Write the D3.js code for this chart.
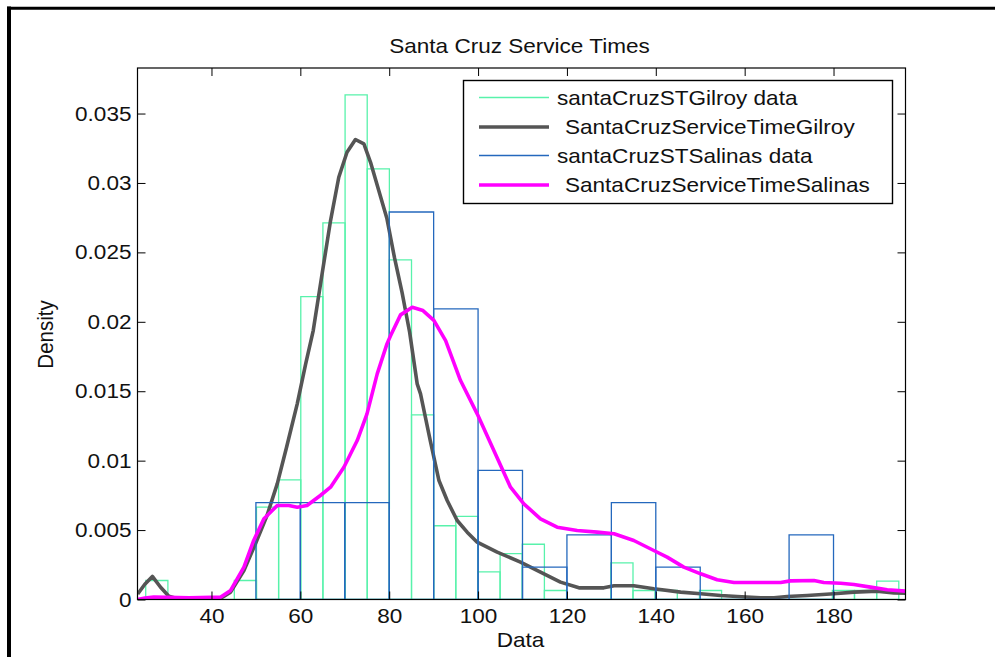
<!DOCTYPE html>
<html>
<head>
<meta charset="utf-8">
<script src="https://cdn.jsdelivr.net/npm/d3@7"></script>
<style>
  body { margin: 0; background: #fff; }
  svg text { font-family: "Liberation Sans", Arial, Helvetica, sans-serif; fill: #111; }
</style>
</head>
<body>
<svg id="chart" width="995" height="657"></svg>
<script>
// ---- Axis ticks ----
const xTicks = [40, 60, 80, 100, 120, 140, 160, 180];
const yTicks = [0, 0.005, 0.01, 0.015, 0.02, 0.025, 0.03, 0.035];
const yTickLabels = ["0", "0.005", "0.01", "0.015", "0.02", "0.025", "0.03", "0.035"];

// ---- Gilroy service times: histogram (density per bin) ----
const gilroyBinEdges = [25.2, 30.19, 35.17, 40.16, 45.14, 50.13, 55.11, 60.1, 65.08, 70.07,
  75.05, 80.04, 85.02, 90.01, 94.99, 99.98, 104.96, 109.95, 114.93, 119.92,
  124.9, 129.89, 134.87, 139.86, 144.84, 149.83, 154.81, 159.8, 164.78, 169.77,
  174.75, 179.74, 184.72, 189.71, 194.69];
const gilroyDensity = [0.00137, 0, 0, 0, 0.00137, 0.00665, 0.00862, 0.02182, 0.02713, 0.03634,
  0.03101, 0.02446, 0.0133, 0.00531, 0.00598, 0.00199, 0.00331, 0.00398, 0.00065, 0,
  0, 0.00264, 0.00065, 0.00065, 0, 0.00065, 0, 0, 0, 0,
  0, 0.00065, 0.00065, 0.00132];

// ---- Salinas service times: histogram (density per bin) ----
const salinasBinEdges = [50, 60, 70, 80, 90, 100, 110, 120, 130, 140, 150, 160, 170, 180];
const salinasDensity = [0.00698, 0.00698, 0.00698, 0.02791, 0.02093, 0.0093, 0.00233,
  0.00465, 0.00698, 0.00233, 0, 0, 0.00465];

// ---- Fitted density curves ----
const gilroyFitX = [23.4, 25.0, 26.7, 28.5, 30.4, 32, 35, 40, 42.1, 44.3, 47.3, 49.9, 52.5, 54.8,
  56.9, 59.3, 61.2, 62.9, 64.9, 66.8, 68.65, 70.5, 72.4, 74.3, 75.8, 77.65, 79.5, 81.2, 82.9,
  84.6, 86.3, 87.05, 89.3, 91.2, 93.05, 95.3, 97.55, 99.8, 104.3, 109.55, 114.05, 118.55,
  122.7, 128.3, 130.6, 135.05, 139.55, 145.6, 150.1, 154.6, 158.3, 163.6, 166.6, 169.6,
  174.1, 180.1, 184.6, 189.8, 193.6, 196.2];
const gilroyFitY = [0.0004, 0.0011, 0.00166, 0.0009, 0.00024, 0.0001, 0.0001, 0.0001, 0.0001,
  0.00053, 0.00209, 0.00401, 0.00605, 0.00833, 0.01097, 0.01409, 0.01697, 0.01937, 0.02346,
  0.02729, 0.03041, 0.03221, 0.03313, 0.03282, 0.03149, 0.02945, 0.02742, 0.0246, 0.0221,
  0.01925, 0.01553, 0.01481, 0.01135, 0.00857, 0.00713, 0.00569, 0.00485, 0.00413, 0.00341,
  0.00269, 0.00197, 0.00125, 0.00084, 0.00084, 0.00099, 0.00099, 0.00077, 0.00053, 0.00041,
  0.00029, 0.00022, 0.00012, 0.00012, 0.00022, 0.00029, 0.00041, 0.00053, 0.0006, 0.00048,
  0.00045];

const salinasFitX = [23.4, 25, 27, 30, 35, 40, 42, 44.3, 47.3, 49.5, 51.8, 54.8, 57.4, 59.3,
  61.5, 64.5, 66.8, 69.8, 72.8, 75.0, 77.3, 79.5, 80.3, 82.55, 85.2, 87.6, 90.05, 92.7, 96.05,
  99.8, 103.55, 107.3, 110.3, 114.05, 117.8, 122.3, 126.8, 130.6, 135.05, 139.55, 142.55,
  146.3, 150.1, 153.8, 157.6, 162.1, 168.1, 170.3, 175.6, 177.8, 181.6, 184.6, 188.3, 192.1,
  196.2];
const salinasFitY = [0, 0.0001, 0.00017, 0.00015, 0.00012, 0.00015, 0.00017, 0.00065, 0.00233,
  0.00425, 0.00581, 0.00677, 0.00677, 0.00665, 0.00677, 0.00749, 0.00809, 0.00953, 0.01145,
  0.01337, 0.01625, 0.01841, 0.019, 0.0205, 0.02105, 0.02081, 0.0201, 0.01865, 0.01577,
  0.01337, 0.01073, 0.00809, 0.00689, 0.00581, 0.00521, 0.00497, 0.00485, 0.00473, 0.00425,
  0.00353, 0.00305, 0.00233, 0.00185, 0.00142, 0.00122, 0.00122, 0.00122, 0.00134, 0.00137,
  0.00122, 0.00117, 0.00108, 0.00089, 0.0007, 0.0006];

// ---- Text ----
const chartTitle = "Santa Cruz Service Times";
const xLabel = "Data";
const yLabel = "Density";
const legendLabels = ["santaCruzSTGilroy data", "SantaCruzServiceTimeGilroy",
  "santaCruzSTSalinas data", "SantaCruzServiceTimeSalinas"];

// ---- Styling ----
const colGilroyHist = "#58f2ab";
const colGilroyFit = "#555555";
const colSalinasHist = "#2468bd";
const colSalinasFit = "#ff00ff";
const FONT = 20.5;       // px
const STRETCH = 1.1;     // horizontal text stretch

const svg = d3.select("#chart");
const W = 995, H = 657;
const plot = { left: 137.5, right: 905.5, top: 68, bottom: 599.5 };

svg.append("rect").attr("width", W).attr("height", H).attr("fill", "#fff");

// outer figure frame (left and top edges)
svg.append("line").attr("x1", 9).attr("x2", 9).attr("y1", 6.5).attr("y2", H)
  .attr("stroke", "#000").attr("stroke-width", 4);
svg.append("line").attr("x1", 7).attr("x2", W).attr("y1", 8.3).attr("y2", 8.3)
  .attr("stroke", "#000").attr("stroke-width", 3);

const x = d3.scaleLinear().domain([23.35, 196.2]).range([plot.left, plot.right]);
const y = d3.scaleLinear().domain([0, 0.03828]).range([plot.bottom, plot.top]);

// plot area
svg.append("rect")
  .attr("x", plot.left).attr("y", plot.top)
  .attr("width", plot.right - plot.left).attr("height", plot.bottom - plot.top)
  .attr("fill", "#fff");

const clip = svg.append("clipPath").attr("id", "plotClip").append("rect")
  .attr("x", plot.left).attr("y", plot.top - 2)
  .attr("width", plot.right - plot.left).attr("height", plot.bottom - plot.top + 2);

const layer = svg.append("g").attr("clip-path", "url(#plotClip)");

function histPath(edges, dens) {
  return dens.map((d, i) => {
    const x0 = x(edges[i]), x1 = x(edges[i + 1]), y0 = y(0), y1 = y(d);
    return `M${x0},${y0}V${y1}H${x1}V${y0}Z`;
  });
}

const line = d3.line().x(d => x(d[0])).y(d => y(d[1])).curve(d3.curveLinear);

// Gilroy histogram
layer.append("g").selectAll("path")
  .data(histPath(gilroyBinEdges, gilroyDensity))
  .join("path").attr("d", d => d)
  .attr("fill", "none").attr("stroke", colGilroyHist).attr("stroke-width", 1.3);

// Gilroy fit
layer.append("path")
  .attr("d", line(d3.zip(gilroyFitX, gilroyFitY)))
  .attr("fill", "none").attr("stroke", colGilroyFit).attr("stroke-width", 3.6)
  .attr("stroke-linejoin", "round");

// Salinas histogram
layer.append("g").selectAll("path")
  .data(histPath(salinasBinEdges, salinasDensity))
  .join("path").attr("d", d => d)
  .attr("fill", "none").attr("stroke", colSalinasHist).attr("stroke-width", 1.3);

// Salinas fit
layer.append("path")
  .attr("d", line(d3.zip(salinasFitX, salinasFitY)))
  .attr("fill", "none").attr("stroke", colSalinasFit).attr("stroke-width", 3.6)
  .attr("stroke-linejoin", "round");

// ---- Axes (ticks point inward on all four sides) ----
function styleAxis(g) {
  g.attr("font-size", null).attr("font-family", null);
  g.select(".domain").remove();
  g.selectAll(".tick line").attr("stroke", "#000").attr("stroke-width", 1);
  g.selectAll(".tick text").attr("font-size", FONT).attr("fill", "#111")
    .attr("transform", `scale(${STRETCH},1)`);
}

svg.append("g").attr("transform", `translate(0,${plot.bottom})`)
  .call(d3.axisBottom(x).tickValues(xTicks).tickSize(-8).tickPadding(9).tickSizeOuter(0))
  .call(styleAxis);
svg.append("g").attr("transform", `translate(0,${plot.top})`)
  .call(d3.axisTop(x).tickValues(xTicks).tickSize(-8).tickFormat(() => "").tickSizeOuter(0))
  .call(styleAxis);
svg.append("g").attr("transform", `translate(${plot.left},0)`)
  .call(d3.axisLeft(y).tickValues(yTicks).tickSize(-8).tickPadding(5.5).tickSizeOuter(0)
    .tickFormat((d, i) => yTickLabels[i]))
  .call(styleAxis);
svg.append("g").attr("transform", `translate(${plot.right},0)`)
  .call(d3.axisRight(y).tickValues(yTicks).tickSize(-8).tickFormat(() => "").tickSizeOuter(0))
  .call(styleAxis);

// axes box
svg.append("rect")
  .attr("x", plot.left).attr("y", plot.top)
  .attr("width", plot.right - plot.left).attr("height", plot.bottom - plot.top)
  .attr("fill", "none").attr("stroke", "#000").attr("stroke-width", 1.2);

// ---- Titles ----
function stretchedText(px, py, str, anchor, rotate) {
  return svg.append("text")
    .attr("transform", `translate(${px},${py}) scale(${STRETCH},1)` + (rotate ? ` rotate(${rotate})` : ""))
    .attr("text-anchor", anchor)
    .attr("font-size", FONT)
    .text(str);
}

stretchedText((plot.left + plot.right) / 2 - 2, 52.5, chartTitle, "middle");
stretchedText((plot.left + plot.right) / 2 - 1, 647, xLabel, "middle");
stretchedText(53, 334.5, yLabel, "middle", -90);

// ---- Legend ----
const legend = { x0: 463.5, y0: 80.5, x1: 892.5, y1: 203.5 };
const lg = svg.append("g");
lg.append("rect")
  .attr("x", legend.x0).attr("y", legend.y0)
  .attr("width", legend.x1 - legend.x0).attr("height", legend.y1 - legend.y0)
  .attr("fill", "#fff").attr("stroke", "#000").attr("stroke-width", 1.4);

const legendRows = [97.5, 127, 155.5, 185];
const legendStroke = [colGilroyHist, colGilroyFit, colSalinasHist, colSalinasFit];
const legendWidth = [1.3, 3.6, 1.3, 3.6];
const legendTextX = [557, 565, 557, 565];

legendLabels.forEach((lab, i) => {
  lg.append("line")
    .attr("x1", 479).attr("x2", 549)
    .attr("y1", legendRows[i]).attr("y2", legendRows[i])
    .attr("stroke", legendStroke[i]).attr("stroke-width", legendWidth[i]);
  lg.append("text")
    .attr("transform", `translate(${legendTextX[i]},${legendRows[i]}) scale(${STRETCH},1)`)
    .attr("dy", "0.35em")
    .attr("font-size", FONT)
    .text(lab);
});
</script>
</body>
</html>
